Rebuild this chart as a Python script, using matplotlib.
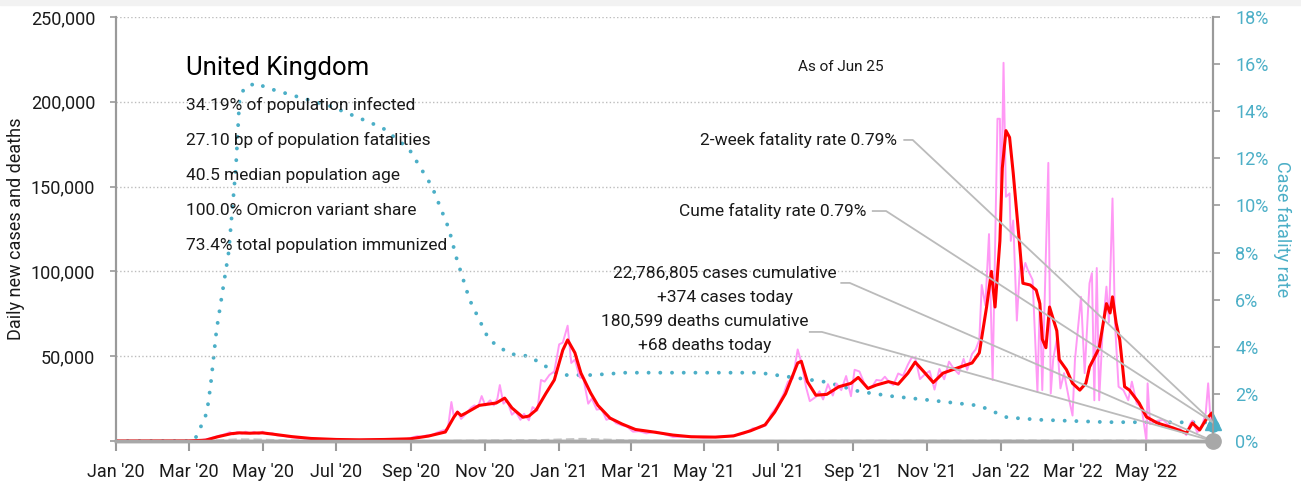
import matplotlib
matplotlib.use('Agg')
import matplotlib.pyplot as plt
import matplotlib.dates as mdates
import matplotlib.ticker as mticker
from matplotlib.patches import Rectangle
import pandas as pd

plt.rcParams['font.family'] = ['Roboto', 'DejaVu Sans']

# daily new cases, raw reports (pink)
raw_dates = [
    '2020-01-01', '2020-02-28', '2020-03-10', '2020-03-18', '2020-03-25', '2020-03-31',
    '2020-04-04', '2020-04-07', '2020-04-10', '2020-04-14', '2020-04-17', '2020-04-21',
    '2020-04-24', '2020-04-28', '2020-05-01', '2020-05-05', '2020-05-09', '2020-05-13',
    '2020-05-18', '2020-05-24', '2020-06-01', '2020-06-10', '2020-06-20', '2020-07-01',
    '2020-07-15', '2020-08-01', '2020-08-14', '2020-08-28', '2020-09-06', '2020-09-09',
    '2020-09-14', '2020-09-17', '2020-09-22', '2020-09-26', '2020-10-01', '2020-10-04',
    '2020-10-06', '2020-10-09', '2020-10-12', '2020-10-16', '2020-10-20', '2020-10-23',
    '2020-10-26', '2020-10-29', '2020-11-01', '2020-11-05', '2020-11-08', '2020-11-11',
    '2020-11-13', '2020-11-16', '2020-11-19', '2020-11-23', '2020-11-26', '2020-11-30',
    '2020-12-03', '2020-12-07', '2020-12-10', '2020-12-14', '2020-12-17', '2020-12-20',
    '2020-12-24', '2020-12-28', '2021-01-01', '2021-01-04', '2021-01-08', '2021-01-11',
    '2021-01-14', '2021-01-18', '2021-01-21', '2021-01-25', '2021-01-28', '2021-02-01',
    '2021-02-05', '2021-02-09', '2021-02-13', '2021-02-17', '2021-02-22', '2021-02-26',
    '2021-03-03', '2021-03-08', '2021-03-14', '2021-03-22', '2021-03-29', '2021-04-05',
    '2021-04-12', '2021-04-20', '2021-04-30', '2021-05-10', '2021-05-20', '2021-05-27',
    '2021-06-03', '2021-06-10', '2021-06-15', '2021-06-21', '2021-06-25', '2021-06-30',
    '2021-07-05', '2021-07-09', '2021-07-13', '2021-07-17', '2021-07-20', '2021-07-24',
    '2021-07-27', '2021-08-01', '2021-08-04', '2021-08-07', '2021-08-11', '2021-08-15',
    '2021-08-18', '2021-08-22', '2021-08-26', '2021-08-30', '2021-09-02', '2021-09-06',
    '2021-09-10', '2021-09-13', '2021-09-17', '2021-09-20', '2021-09-24', '2021-09-27',
    '2021-10-01', '2021-10-04', '2021-10-08', '2021-10-12', '2021-10-16', '2021-10-19',
    '2021-10-22', '2021-10-26', '2021-10-30', '2021-11-03', '2021-11-07', '2021-11-11',
    '2021-11-15', '2021-11-19', '2021-11-23', '2021-11-27', '2021-12-01', '2021-12-04',
    '2021-12-08', '2021-12-11', '2021-12-14', '2021-12-16', '2021-12-19', '2021-12-22',
    '2021-12-25', '2021-12-29', '2021-12-31', '2022-01-01', '2022-01-03', '2022-01-05',
    '2022-01-08', '2022-01-09', '2022-01-11', '2022-01-14', '2022-01-17', '2022-01-19',
    '2022-01-21', '2022-01-23', '2022-01-27', '2022-01-31', '2022-02-02', '2022-02-04',
    '2022-02-09', '2022-02-11', '2022-02-13', '2022-02-16', '2022-02-19', '2022-02-22',
    '2022-02-26', '2022-03-01', '2022-03-03', '2022-03-08', '2022-03-11', '2022-03-15',
    '2022-03-17', '2022-03-19', '2022-03-21', '2022-03-23', '2022-03-26', '2022-03-29',
    '2022-03-31', '2022-04-03', '2022-04-05', '2022-04-08', '2022-04-12', '2022-04-16',
    '2022-04-19', '2022-04-23', '2022-04-27', '2022-05-01', '2022-05-02', '2022-05-04',
    '2022-05-10', '2022-05-15', '2022-05-22', '2022-05-29', '2022-06-03', '2022-06-06',
    '2022-06-08', '2022-06-12', '2022-06-16', '2022-06-19', '2022-06-21', '2022-06-23',
    '2022-06-25',
]
raw_cases = [
    0, 20, 300, 1400, 2900, 4000,
    5200, 3900, 5300, 4300, 5500, 4400,
    5400, 4100, 5500, 4000, 4600, 3300,
    3100, 2300, 1700, 1400, 1100, 800,
    600, 800, 1100, 1200, 2900, 2500,
    3400, 3300, 4900, 6000, 7000, 23000,
    14500, 17500, 13000, 16000, 19500, 21000,
    20000, 26500, 21000, 24000, 21000, 25000,
    33000, 22000, 24000, 15500, 17500, 12500,
    16000, 12200, 20000, 18000, 36000, 35000,
    39000, 41000, 57000, 58000, 68000, 46000,
    48000, 37500, 37000, 22000, 25000, 18500,
    19000, 12500, 13500, 10500, 9200, 8500,
    5500, 5800, 4500, 5500, 4000, 2400,
    2500, 2700, 2000, 2400, 2700, 3400,
    4500, 7500, 7600, 9300, 15800, 20500,
    27300, 35000, 37000, 54000, 46500, 31500,
    23500, 26000, 29300, 24500, 33500, 26800,
    33900, 30000, 38300, 26400, 42000, 41000,
    34000, 30800, 32600, 36000, 35600, 37900,
    34400, 33000, 39800, 38500, 45000, 49000,
    49300, 36500, 39300, 41300, 30300, 42500,
    36400, 46800, 42500, 39500, 48400, 42000,
    51300, 54000, 59600, 92000, 80000, 122000,
    36000, 190000, 190000, 136000, 223000, 144000,
    146000, 118000, 130000, 71000, 108000, 99000,
    105000, 101000, 95000, 29000, 83000, 30000,
    164000, 28000, 48000, 60000, 31000, 40000,
    25000, 15000, 48000, 85000, 40000, 93000,
    99000, 24000, 102000, 24000, 67000, 91000,
    70000, 143000, 70000, 32000, 30000, 24000,
    35000, 22000, 20000, 0, 34000, 10000,
    12000, 12400, 7500, 7000, 3500, 10000,
    12000, 5000, 9000, 16500, 34000, 12000,
    15000,
]

# 7-day average of new cases (red)
avg_dates = [
    '2020-01-01', '2020-03-01', '2020-03-15', '2020-03-25', '2020-04-05', '2020-04-12',
    '2020-04-20', '2020-05-01', '2020-05-10', '2020-05-25', '2020-06-10', '2020-07-01',
    '2020-07-20', '2020-08-10', '2020-08-31', '2020-09-15', '2020-09-29', '2020-10-06',
    '2020-10-09', '2020-10-12', '2020-10-16', '2020-10-27', '2020-11-10', '2020-11-17',
    '2020-11-23', '2020-12-02', '2020-12-07', '2020-12-13', '2020-12-21', '2020-12-28',
    '2021-01-04', '2021-01-08', '2021-01-14', '2021-01-19', '2021-01-27', '2021-02-02',
    '2021-02-12', '2021-02-22', '2021-03-05', '2021-03-20', '2021-04-05', '2021-04-20',
    '2021-05-10', '2021-05-25', '2021-06-08', '2021-06-20', '2021-06-28', '2021-07-07',
    '2021-07-17', '2021-07-20', '2021-07-25', '2021-08-01', '2021-08-10', '2021-08-20',
    '2021-08-30', '2021-09-05', '2021-09-13', '2021-09-20', '2021-09-30', '2021-10-08',
    '2021-10-16', '2021-10-22', '2021-10-29', '2021-11-06', '2021-11-14', '2021-11-28',
    '2021-12-08', '2021-12-14', '2021-12-20', '2021-12-24', '2021-12-27', '2021-12-31',
    '2022-01-02', '2022-01-05', '2022-01-08', '2022-01-11', '2022-01-16', '2022-01-19',
    '2022-01-25', '2022-01-30', '2022-02-02', '2022-02-04', '2022-02-07', '2022-02-10',
    '2022-02-16', '2022-02-18', '2022-02-24', '2022-03-01', '2022-03-07', '2022-03-12',
    '2022-03-15', '2022-03-21', '2022-03-23', '2022-03-29', '2022-04-01', '2022-04-03',
    '2022-04-06', '2022-04-09', '2022-04-11', '2022-04-13', '2022-04-17', '2022-04-25',
    '2022-05-01', '2022-05-10', '2022-05-23', '2022-06-03', '2022-06-08', '2022-06-14',
    '2022-06-19', '2022-06-24', '2022-06-25',
]
avg_cases = [
    0, 30, 500, 2500, 4300, 4800,
    4600, 4800, 4000, 2600, 1500, 900,
    700, 900, 1300, 2900, 5300, 14000,
    17000, 15000, 16500, 21000, 22400, 25300,
    19500, 14000, 14700, 18300, 28000, 36000,
    53600, 59600, 52000, 40000, 28300, 21000,
    13500, 10000, 6800, 5300, 3500, 2500,
    2300, 3000, 6000, 9500, 17000, 28000,
    46000, 47000, 35000, 27000, 27500, 32000,
    34000, 37500, 31000, 33000, 35000, 33500,
    40000, 46500, 41000, 34500, 40000, 43600,
    46000, 52000, 79000, 100000, 79000, 118000,
    161000, 183000, 179000, 158000, 118000, 93000,
    92000, 89000, 81000, 60000, 55000, 79000,
    65000, 48000, 42000, 34000, 30000, 34000,
    43600, 52000, 55000, 81000, 75500, 85000,
    69600, 59600, 46000, 32000, 30000, 22400,
    14200, 10600, 7700, 4700, 10600, 6500,
    12400, 16500, 13500,
]

# daily new deaths (grey)
death_dates = [
    '2020-01-01', '2020-03-15', '2020-04-10', '2020-04-25', '2020-05-15', '2020-06-15',
    '2020-08-01', '2020-09-15', '2020-11-01', '2020-11-25', '2020-12-15', '2021-01-20',
    '2021-02-05', '2021-03-01', '2021-04-01', '2021-07-01', '2021-08-15', '2021-10-15',
    '2021-12-01', '2022-01-20', '2022-03-01', '2022-04-10', '2022-05-15', '2022-06-25',
]
deaths = [
    0, 50, 950, 900, 450, 150,
    20, 30, 300, 450, 500, 1250,
    900, 300, 50, 20, 100, 130,
    120, 280, 150, 200, 80, 68,
]

# case fatality rate, % (right axis)
cfr_dates = [
    '2020-01-01', '2020-03-01', '2020-03-06', '2020-03-11', '2020-03-16', '2020-03-19',
    '2020-03-24', '2020-04-03', '2020-04-09', '2020-04-12', '2020-04-16', '2020-04-26',
    '2020-05-04', '2020-06-27', '2020-08-08', '2020-08-30', '2020-09-18', '2020-10-02',
    '2020-10-08', '2020-10-19', '2020-11-04', '2020-11-21', '2020-12-07', '2020-12-20',
    '2021-01-01', '2021-01-28', '2021-02-25', '2021-04-21', '2021-06-15', '2021-07-13',
    '2021-08-10', '2021-09-06', '2021-10-03', '2021-10-31', '2021-12-14', '2022-01-06',
    '2022-02-02', '2022-03-29', '2022-06-25',
]
cfr = [
    0, 0, 0.05, 0.6, 1.2, 2.3,
    4.7, 8.0, 11.6, 14.5, 15.0, 15.2,
    15.0, 14.2, 13.3, 12.4, 10.8, 9.0,
    7.8, 6.0, 4.3, 3.7, 3.6, 3.2,
    2.8, 2.8, 2.9, 2.9, 2.9, 2.7,
    2.5, 2.1, 1.9, 1.75, 1.5, 1.0,
    0.9, 0.8, 0.79,
]

stats = [
    '34.19% of population infected',
    '27.10 bp of population fatalities',
    '40.5 median population age',
    '100.0% Omicron variant share',
    '73.4% total population immunized',
]

TEAL = '#4cafc7'
GREY = '#9a9a9a'
INK = '#1a1a1a'

raw_dates = pd.to_datetime(raw_dates)
avg_dates = pd.to_datetime(avg_dates)
death_dates = pd.to_datetime(death_dates)
cfr_dates = pd.to_datetime(cfr_dates)
end = pd.Timestamp('2022-06-25')

fig = plt.figure(figsize=(13.01, 4.82), dpi=100)
fig.patches.append(Rectangle((0, 1 - 5 / 482), 1, 5 / 482, transform=fig.transFigure,
                             color='#f2f2f2', zorder=0))
ax = fig.add_axes([116 / 1301, 41 / 482, 1097 / 1301, 424 / 482])
ax2 = ax.twinx()
ax.set_zorder(ax2.get_zorder() + 1)
ax.patch.set_visible(False)

# right axis: case fatality rate
ax2.plot(cfr_dates, cfr, color=TEAL, lw=2.8, linestyle=(0, (0.01, 3.0)),
         dash_capstyle='round')
ax2.plot([cfr_dates[-1]], [cfr[-1]], marker='^', ms=11, color=TEAL, clip_on=False, zorder=5)
ax2.plot([cfr_dates[-1]], [cfr[-1] - 0.15], marker='o', ms=8, color=TEAL, clip_on=False, zorder=5)
ax2.set_ylim(0, 18)
ax2.set_yticks(range(0, 19, 2))
ax2.yaxis.set_major_formatter(mticker.FuncFormatter(lambda v, p: f'{v:.0f}%'))
ax2.tick_params(axis='y', colors=GREY, labelcolor=TEAL, labelsize=13, length=5, width=1.2, pad=11)
ax2.set_ylabel('Case fatality rate', color=TEAL, fontsize=13, rotation=270, labelpad=16)

# left axis: cases and deaths
ax.plot(death_dates, deaths, color='#c4c4c4', lw=1.5, linestyle=(0, (4, 2)))
ax.plot(raw_dates, raw_cases, color='#ff99f5', lw=1.4)
ax.plot(avg_dates, avg_cases, color='#ff0000', lw=2.2)
ax.plot([end], [0], marker='o', ms=11, color='#a8a8a8', clip_on=False, zorder=6)

ax.set_ylim(0, 250000)
ax.set_xlim(pd.Timestamp('2020-01-01'), end)
ax.set_yticks(range(0, 250001, 50000))
ax.yaxis.set_major_formatter(mticker.FuncFormatter(lambda v, p: '' if v == 0 else f'{v:,.0f}'))
ax.grid(axis='y', color='#bdbdbd', linestyle=':', lw=1)
ax.xaxis.set_major_locator(mdates.MonthLocator(bymonth=[1, 3, 5, 7, 9, 11]))
ax.xaxis.set_major_formatter(mdates.DateFormatter("%b '%y"))
ax.tick_params(axis='y', colors=GREY, labelcolor=INK, labelsize=13, length=4, width=1.2, pad=11)
ax.tick_params(axis='x', colors=GREY, labelcolor=INK, labelsize=13, length=7, width=1.5, pad=9)
ax.set_ylabel('Daily new cases and deaths', fontsize=13, color=INK)
ax.yaxis.set_label_coords(-0.083, 0.5)

for a in (ax, ax2):
    a.spines['top'].set_visible(False)
    a.spines['left'].set_color(GREY)
    a.spines['right'].set_color(GREY)
    a.spines['left'].set_linewidth(1.5)
    a.spines['right'].set_linewidth(1.5)
    a.spines['bottom'].set_color('#a8a8a8')
    a.spines['bottom'].set_linewidth(2.5)

# title block
x0 = pd.Timestamp('2020-02-28')
ax.text(x0, 215800, 'United Kingdom', fontsize=18.5, color='black', va='baseline')
for i, s in enumerate(stats):
    ax.text(x0, 195160 - i * 20640, s, fontsize=12.5, color=INK, va='baseline')

# annotations on the right
cfr_end_left = cfr[-1] / 18 * 250000
ax.text(pd.Timestamp('2021-08-22'), 220500, 'As of Jun 25', fontsize=11, ha='center', va='center',
        color=INK)
ax.text(pd.Timestamp('2021-10-07'), 177500, '2-week fatality rate 0.79%', fontsize=12.5,
        ha='right', va='center', color=INK)
ax.text(pd.Timestamp('2021-09-12'), 135600, 'Cume fatality rate 0.79%', fontsize=12.5,
        ha='right', va='center', color=INK)
ax.text(pd.Timestamp('2021-05-18'), 99000, '22,786,805 cases cumulative', fontsize=12.5,
        ha='center', va='center', color=INK)
ax.text(pd.Timestamp('2021-05-18'), 84900, '+374 cases today', fontsize=12.5,
        ha='center', va='center', color=INK)
ax.text(pd.Timestamp('2021-05-01'), 70750, '180,599 deaths cumulative', fontsize=12.5,
        ha='center', va='center', color=INK)
ax.text(pd.Timestamp('2021-05-01'), 56600, '+68 deaths today', fontsize=12.5,
        ha='center', va='center', color=INK)

leaders = [
    ('2021-10-13', '2021-10-20', 177500, cfr_end_left),
    ('2021-09-17', '2021-09-28', 135600, cfr_end_left),
    ('2021-08-22', '2021-08-29', 93200, 0),
    ('2021-07-27', '2021-08-06', 64300, 0),
]
for a0, a1, yv, ye in leaders:
    ax.plot([pd.Timestamp(a0), pd.Timestamp(a1), end], [yv, yv, ye], color='#bbbbbb', lw=1.3,
            zorder=4)

fig.savefig('out.png', dpi=100)
